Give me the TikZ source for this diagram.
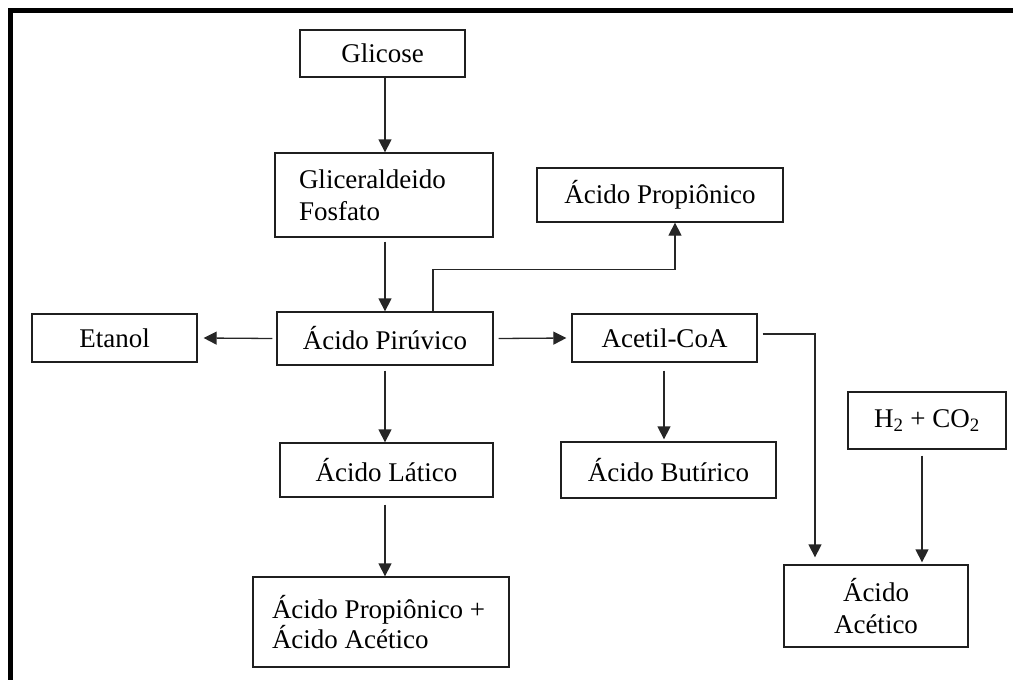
\documentclass[tikz,border=0pt]{standalone}
\usepackage{fontspec}
\setmainfont{Liberation Serif}
\usetikzlibrary{arrows.meta}
\begin{document}
\begin{tikzpicture}[x=1pt,y=-1pt,
  box/.style={draw=black!88,line width=1.3pt,rectangle,inner sep=0pt,align=center,font=\fontsize{27}{32}\selectfont},
  arr/.style={draw=black!85,line width=1.3pt,-{Triangle[length=13pt,width=13pt]}}]
\useasboundingbox (0,0) rectangle (1013,680);
\begin{scope}
\clip (0,0) rectangle (1013,680);
\draw[line width=5.5pt] (10.5,700) -- (10.5,10.5) -- (1030,10.5);
\end{scope}

\node[box,minimum width=165pt,minimum height=47pt] (glic) at (382.5,53.5) {Glicose};
\node[box,minimum width=218pt,minimum height=84pt,text width=170pt,align=flush left] (glif) at (384,195) {Gliceraldeido\\Fosfato};
\node[box,minimum width=216pt,minimum height=53pt] (piru) at (385,338.5) {Ácido Pirúvico};
\node[box,minimum width=165pt,minimum height=48pt] (etanol) at (114.5,338) {Etanol};
\node[box,minimum width=185pt,minimum height=48pt] (acetil) at (664.5,338) {Acetil-CoA};
\node[box,minimum width=246pt,minimum height=54pt] (propi) at (660,195) {Ácido Propiônico};
\node[box,minimum width=215pt,minimum height=56pt] (butir) at (668.5,470) {Ácido Butírico};
\node[box,minimum width=213pt,minimum height=54pt] (latic) at (386.5,470) {Ácido Lático};
\node[box,minimum width=256pt,minimum height=90pt,text width=218pt,align=flush left,font=\fontsize{27}{28}\selectfont] (propac) at (381,622) {Ácido Propiônico +\\Ácido Acético};
\node[box,minimum width=158pt,minimum height=57pt] (h2) at (927,420.5) {H\textsubscript{2} + CO\textsubscript{2}};
\node[box,minimum width=184pt,minimum height=82pt] (acet) at (876,606) {Ácido\\Acético};

\coordinate (xa) at (385,0);
\coordinate (xb) at (433,0);
\coordinate (xc) at (664,0);
\coordinate (xd) at (815,0);
\coordinate (xe) at (922,0);
\coordinate (xf) at (675,0);

\draw[arr] (glic.south -| xa) -- (glif.north -| xa);
\draw[arr,shorten <=4pt] (glif.south -| xa) -- (piru.north -| xa);
\draw[arr] ([xshift=-4pt]piru.west) -- ([xshift=6pt]etanol.east);
\draw[arr] ([xshift=5pt]piru.east) -- ([xshift=-5pt]acetil.west);
\draw[arr] (piru.north -| xb) -- ++(0,-42) -| (propi.south -| xf);
\draw[arr,shorten <=5pt] (piru.south -| xa) -- (latic.north -| xa);
\draw[arr,shorten <=8pt,shorten >=2pt] (acetil.south -| xc) -- (butir.north -| xc);
\draw[arr,shorten >=7pt] ([xshift=5pt,yshift=4pt]acetil.east) -| (acet.north -| xd);
\draw[arr,shorten <=6pt,shorten >=2pt] (h2.south -| xe) -- (acet.north -| xe);
\draw[arr,shorten <=7pt] (latic.south -| xa) -- (propac.north -| xa);
\end{tikzpicture}
\end{document}
